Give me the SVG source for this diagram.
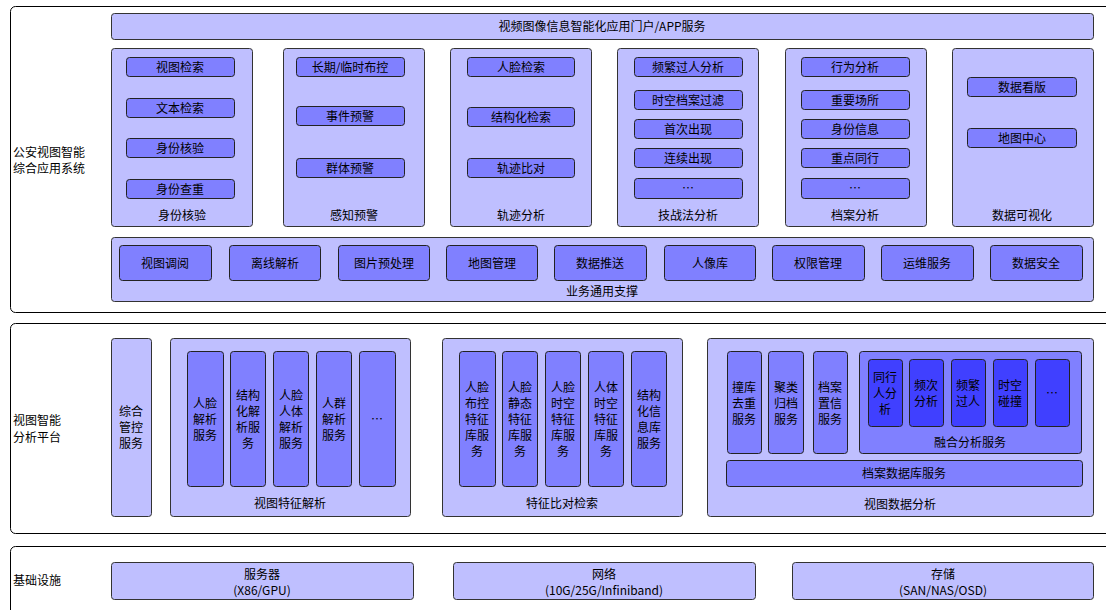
<svg xmlns="http://www.w3.org/2000/svg" width="1106" height="610" viewBox="0 0 1106 610">
<style>
text{font-family:"Noto Sans CJK SC","Liberation Sans",sans-serif;font-size:12px;fill:#000;transform:translateY(-1px);}
.c{text-anchor:middle;dominant-baseline:central;}
.l{dominant-baseline:central;}
.frame{fill:#fff;stroke:#000;stroke-width:1;}
.lt{fill:#BFBFFF;stroke:#333;stroke-width:1;}
.md{fill:#8080FF;stroke:#222;stroke-width:1;}
.dk{fill:#4040FF;stroke:#222;stroke-width:1;}
</style>
<rect width="1106" height="610" fill="#fff"/>

<!-- Layer 1 -->
<g id="app-system">
<rect class="frame" x="10.5" y="6.5" width="1110" height="306" rx="5"/>
<text class="l" x="13" y="152">公安视图智能</text>
<text class="l" x="13" y="168">综合应用系统</text>
</g>
<g id="portal">
<rect class="lt" x="111.5" y="13.5" width="982" height="26" rx="3"/>
<text class="c" x="602" y="26">视频图像信息智能化应用门户/APP服务</text>
</g>

<g id="sfhy">
<rect class="lt" x="111.5" y="48.5" width="141" height="178" rx="3"/>
<rect class="md" x="126.5" y="57.5" width="108" height="19" rx="3"/><text class="c" x="180" y="67">视图检索</text>
<rect class="md" x="126.5" y="98.5" width="108" height="19" rx="3"/><text class="c" x="180" y="108">文本检索</text>
<rect class="md" x="126.5" y="138.5" width="108" height="19" rx="3"/><text class="c" x="180" y="148">身份核验</text>
<rect class="md" x="126.5" y="179.5" width="108" height="19" rx="3"/><text class="c" x="180" y="189">身份查重</text>
<text class="c" x="182" y="215">身份核验</text>
</g>

<g id="gzyj">
<rect class="lt" x="283.5" y="48.5" width="141" height="178" rx="3"/>
<rect class="md" x="296.5" y="57.5" width="108" height="19" rx="3"/><text class="c" x="350" y="67">长期/临时布控</text>
<rect class="md" x="296.5" y="106.5" width="108" height="19" rx="3"/><text class="c" x="350" y="116">事件预警</text>
<rect class="md" x="296.5" y="158.5" width="108" height="19" rx="3"/><text class="c" x="350" y="168">群体预警</text>
<text class="c" x="354" y="215">感知预警</text>
</g>

<g id="gjfx">
<rect class="lt" x="450.5" y="48.5" width="141" height="178" rx="3"/>
<rect class="md" x="467.5" y="57.5" width="107" height="19" rx="3"/><text class="c" x="521" y="67">人脸检索</text>
<rect class="md" x="467.5" y="107.5" width="107" height="19" rx="3"/><text class="c" x="521" y="117">结构化检索</text>
<rect class="md" x="467.5" y="158.5" width="107" height="19" rx="3"/><text class="c" x="521" y="168">轨迹比对</text>
<text class="c" x="521" y="215">轨迹分析</text>
</g>

<g id="jzffx">
<rect class="lt" x="617.5" y="48.5" width="141" height="178" rx="3"/>
<rect class="md" x="634.5" y="57.5" width="108" height="19" rx="3"/><text class="c" x="688" y="67">频繁过人分析</text>
<rect class="md" x="634.5" y="90.5" width="108" height="19" rx="3"/><text class="c" x="688" y="100">时空档案过滤</text>
<rect class="md" x="634.5" y="119.5" width="108" height="19" rx="3"/><text class="c" x="688" y="129">首次出现</text>
<rect class="md" x="634.5" y="148.5" width="108" height="19" rx="3"/><text class="c" x="688" y="158">连续出现</text>
<rect class="md" x="634.5" y="178.5" width="108" height="20" rx="3"/><text class="c" x="688" y="188">…</text>
<text class="c" x="688" y="215">技战法分析</text>
</g>

<g id="dafx">
<rect class="lt" x="785.5" y="48.5" width="141" height="178" rx="3"/>
<rect class="md" x="801.5" y="57.5" width="108" height="19" rx="3"/><text class="c" x="855" y="67">行为分析</text>
<rect class="md" x="801.5" y="90.5" width="108" height="19" rx="3"/><text class="c" x="855" y="100">重要场所</text>
<rect class="md" x="801.5" y="119.5" width="108" height="19" rx="3"/><text class="c" x="855" y="129">身份信息</text>
<rect class="md" x="801.5" y="148.5" width="108" height="19" rx="3"/><text class="c" x="855" y="158">重点同行</text>
<rect class="md" x="801.5" y="178.5" width="108" height="20" rx="3"/><text class="c" x="855" y="188">…</text>
<text class="c" x="855" y="215">档案分析</text>
</g>

<g id="sjksh">
<rect class="lt" x="952.5" y="48.5" width="141" height="178" rx="3"/>
<rect class="md" x="967.5" y="77.5" width="109" height="19" rx="3"/><text class="c" x="1022" y="87">数据看版</text>
<rect class="md" x="967.5" y="128.5" width="109" height="19" rx="3"/><text class="c" x="1022" y="138">地图中心</text>
<text class="c" x="1022" y="215">数据可视化</text>
</g>

<g id="ywtyzc">
<rect class="lt" x="111.5" y="237.5" width="982" height="64" rx="3"/>
<rect class="md" x="119.5" y="245.5" width="92" height="35" rx="3"/><text class="c" x="165" y="263">视图调阅</text>
<rect class="md" x="229.5" y="245.5" width="91" height="35" rx="3"/><text class="c" x="275" y="263">离线解析</text>
<rect class="md" x="338.5" y="245.5" width="91" height="35" rx="3"/><text class="c" x="384" y="263">图片预处理</text>
<rect class="md" x="446.5" y="245.5" width="91" height="35" rx="3"/><text class="c" x="492" y="263">地图管理</text>
<rect class="md" x="554.5" y="245.5" width="92" height="35" rx="3"/><text class="c" x="600" y="263">数据推送</text>
<rect class="md" x="664.5" y="245.5" width="91" height="35" rx="3"/><text class="c" x="710" y="263">人像库</text>
<rect class="md" x="772.5" y="245.5" width="92" height="35" rx="3"/><text class="c" x="818" y="263">权限管理</text>
<rect class="md" x="881.5" y="245.5" width="92" height="35" rx="3"/><text class="c" x="927" y="263">运维服务</text>
<rect class="md" x="990.5" y="245.5" width="92" height="35" rx="3"/><text class="c" x="1036" y="263">数据安全</text>
<text class="c" x="602" y="291">业务通用支撑</text>
</g>

<!-- Layer 2 -->
<g id="analysis-platform">
<rect class="frame" x="10.5" y="323.5" width="1110" height="210" rx="5"/>
<text class="l" x="13" y="420">视图智能</text>
<text class="l" x="13" y="437">分析平台</text>
</g>

<g id="zhgk">
<rect class="lt" x="111.5" y="338.5" width="40" height="178" rx="3"/>
<text class="c" x="131" y="411">综合</text>
<text class="c" x="131" y="427">管控</text>
<text class="c" x="131" y="443">服务</text>
</g>

<g id="stjx">
<rect class="lt" x="170.5" y="338.5" width="240" height="178" rx="3"/>
<rect class="md" x="187.5" y="351.5" width="36" height="135" rx="3"/>
<text class="c" x="205" y="403">人脸</text><text class="c" x="205" y="419">解析</text><text class="c" x="205" y="435">服务</text>
<rect class="md" x="230.5" y="351.5" width="35" height="135" rx="3"/>
<text class="c" x="248" y="395">结构</text><text class="c" x="248" y="411">化解</text><text class="c" x="248" y="427">析服</text><text class="c" x="248" y="443">务</text>
<rect class="md" x="273.5" y="351.5" width="35" height="135" rx="3"/>
<text class="c" x="291" y="395">人脸</text><text class="c" x="291" y="411">人体</text><text class="c" x="291" y="427">解析</text><text class="c" x="291" y="443">服务</text>
<rect class="md" x="316.5" y="351.5" width="35" height="135" rx="3"/>
<text class="c" x="334" y="403">人群</text><text class="c" x="334" y="419">解析</text><text class="c" x="334" y="435">服务</text>
<rect class="md" x="359.5" y="351.5" width="36" height="135" rx="3"/>
<text class="c" x="377" y="419">…</text>
<text class="c" x="290" y="503">视图特征解析</text>
</g>

<g id="tzbd">
<rect class="lt" x="442.5" y="338.5" width="240" height="178" rx="3"/>
<rect class="md" x="459.5" y="351.5" width="36" height="135" rx="3"/>
<text class="c" x="477" y="387">人脸</text><text class="c" x="477" y="403">布控</text><text class="c" x="477" y="419">特征</text><text class="c" x="477" y="435">库服</text><text class="c" x="477" y="451">务</text>
<rect class="md" x="502.5" y="351.5" width="35" height="135" rx="3"/>
<text class="c" x="520" y="387">人脸</text><text class="c" x="520" y="403">静态</text><text class="c" x="520" y="419">特征</text><text class="c" x="520" y="435">库服</text><text class="c" x="520" y="451">务</text>
<rect class="md" x="545.5" y="351.5" width="35" height="135" rx="3"/>
<text class="c" x="563" y="387">人脸</text><text class="c" x="563" y="403">时空</text><text class="c" x="563" y="419">特征</text><text class="c" x="563" y="435">库服</text><text class="c" x="563" y="451">务</text>
<rect class="md" x="588.5" y="351.5" width="35" height="135" rx="3"/>
<text class="c" x="606" y="387">人体</text><text class="c" x="606" y="403">时空</text><text class="c" x="606" y="419">特征</text><text class="c" x="606" y="435">库服</text><text class="c" x="606" y="451">务</text>
<rect class="md" x="631.5" y="351.5" width="35" height="135" rx="3"/>
<text class="c" x="649" y="395">结构</text><text class="c" x="649" y="411">化信</text><text class="c" x="649" y="427">息库</text><text class="c" x="649" y="443">服务</text>
<text class="c" x="562" y="503">特征比对检索</text>
</g>

<g id="stsjfx">
<rect class="lt" x="707.5" y="338.5" width="386" height="178" rx="3"/>
<rect class="md" x="727.5" y="351.5" width="34" height="102" rx="3"/>
<text class="c" x="744" y="387">撞库</text><text class="c" x="744" y="403">去重</text><text class="c" x="744" y="419">服务</text>
<rect class="md" x="768.5" y="351.5" width="35" height="102" rx="3"/>
<text class="c" x="786" y="387">聚类</text><text class="c" x="786" y="403">归档</text><text class="c" x="786" y="419">服务</text>
<rect class="md" x="813.5" y="351.5" width="34" height="102" rx="3"/>
<text class="c" x="830" y="387">档案</text><text class="c" x="830" y="403">置信</text><text class="c" x="830" y="419">服务</text>
<rect class="md" x="726.5" y="460.5" width="356" height="26" rx="3"/>
<text class="c" x="904" y="473">档案数据库服务</text>
<text class="c" x="900" y="504">视图数据分析</text>
</g>

<g id="rhfx">
<rect class="md" x="859.5" y="351.5" width="222" height="102" rx="3"/>
<rect class="dk" x="868.5" y="359.5" width="34" height="67" rx="3"/>
<text class="c" x="885" y="377">同行</text><text class="c" x="885" y="393">人分</text><text class="c" x="885" y="409">析</text>
<rect class="dk" x="909.5" y="359.5" width="34" height="67" rx="3"/>
<text class="c" x="926" y="385">频次</text><text class="c" x="926" y="401">分析</text>
<rect class="dk" x="951.5" y="359.5" width="34" height="67" rx="3"/>
<text class="c" x="968" y="385">频繁</text><text class="c" x="968" y="401">过人</text>
<rect class="dk" x="993.5" y="359.5" width="34" height="67" rx="3"/>
<text class="c" x="1010" y="385">时空</text><text class="c" x="1010" y="401">碰撞</text>
<rect class="dk" x="1035.5" y="359.5" width="34" height="67" rx="3"/>
<text class="c" x="1052" y="393">…</text>
<text class="c" x="970" y="442">融合分析服务</text>
</g>

<!-- Layer 3 -->
<g id="infra">
<rect class="frame" x="10.5" y="546.5" width="1110" height="80" rx="5"/>
<text class="l" x="13" y="580">基础设施</text>
</g>
<g id="server">
<rect class="lt" x="111.5" y="562.5" width="302" height="37" rx="3"/>
<text class="c" x="262" y="574">服务器</text>
<text class="c" x="262" y="590">(X86/GPU)</text>
</g>
<g id="network">
<rect class="lt" x="453.5" y="562.5" width="302" height="37" rx="3"/>
<text class="c" x="604" y="574">网络</text>
<text class="c" x="604" y="590">(10G/25G/Infiniband)</text>
</g>
<g id="storage">
<rect class="lt" x="792.5" y="562.5" width="301" height="37" rx="3"/>
<text class="c" x="943" y="574">存储</text>
<text class="c" x="943" y="590">(SAN/NAS/OSD)</text>
</g>
</svg>
